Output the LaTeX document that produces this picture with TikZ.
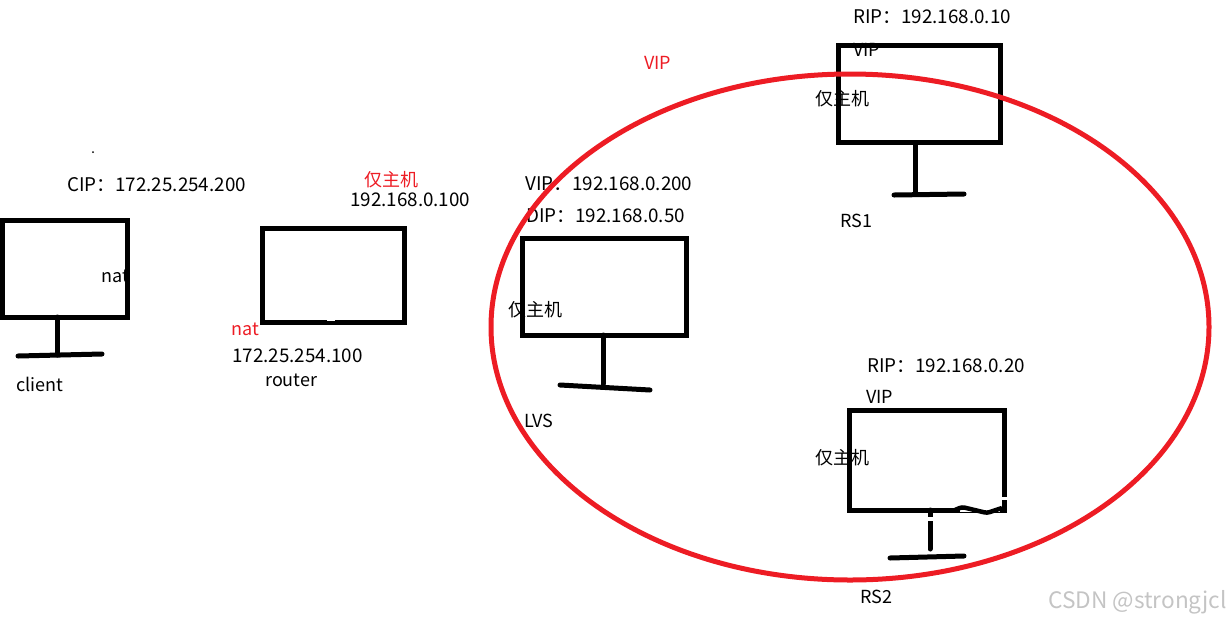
\documentclass[tikz,border=0pt]{standalone}
\usepackage{fontspec}
\usetikzlibrary{shapes.geometric}
\setmainfont{Noto Sans CJK SC}
\definecolor{vipred}{HTML}{ED1C24}
\definecolor{markgray}{HTML}{C4C4C4}
\def\px{0.75pt}
\tikzset{
  lbl/.style={anchor=base west,inner sep=0pt,font=\fontsize{13.5pt}{15pt}\selectfont},
  iplbl/.style={lbl,font=\fontsize{14.1pt}{15pt}\selectfont},
  redlbl/.style={lbl,text=vipred},
  monitor/.style={draw,line width=5*\px,inner sep=0pt,outer sep=0pt},
  stand/.style={line width=5*\px,line cap=round},
}

\begin{document}
\begin{tikzpicture}[x=\px,y=-\px]
  \useasboundingbox (0,0) rectangle (1228,619);
  % texts go first, the boxes and the ring cut through them
  \node[iplbl] (ciptext) at (67,191) {CIP：172.25.254.200};
  \node[lbl] (clientnat) at (101,282) {nat};
  \node[lbl] (clientname) at (16,391) {client};
  \node[redlbl] (routerhost) at (364,186) {仅主机};
  \node[iplbl] (routerip) at (350,206) {192.168.0.100};
  \node[redlbl] (routernat) at (231,335) {nat};
  \node[iplbl] (routerout) at (232,362) {172.25.254.100};
  \node[lbl] (routername) at (265,386) {router};
  \node[redlbl] (viptext) at (644,69) {VIP};
  \node[iplbl] (lvsvip) at (525,190) {VIP：192.168.0.200};
  \node[iplbl] (lvsdip) at (526,222) {DIP：192.168.0.50};
  \node[lbl] (lvshost) at (508,316) {仅主机};
  \node[lbl] (lvsname) at (524,427) {LVS};
  \node[iplbl] (rsoneip) at (853,23) {RIP：192.168.0.10};
  \node[lbl] (rsonevip) at (853,56) {VIP};
  \node[lbl] (rsonehost) at (815,105) {仅主机};
  \node[lbl] (rsonename) at (840,227) {RS1};
  \node[iplbl] (rstwoip) at (867,372) {RIP：192.168.0.20};
  \node[lbl] (rstwovip) at (866,403) {VIP};
  \node[lbl] (rstwohost) at (815,464) {仅主机};
  \node[lbl] (rstwoname) at (860,603) {RS2};
  \node[lbl,text=markgray,font=\fontsize{17pt}{19pt}\selectfont] (mark) at (1048,608) {CSDN @strongjcl};

  % monitors
  \node[monitor,minimum width=125*\px,minimum height=97*\px] (client) at (64.5,268.5) {};
  \node[monitor,minimum width=142*\px,minimum height=94*\px] (router) at (333,275) {};
  \node[monitor,minimum width=164*\px,minimum height=97*\px] (lvs) at (604.5,286.5) {};
  \node[monitor,minimum width=162*\px,minimum height=97*\px] (rsone) at (919,94) {};
  \node[monitor,minimum width=155*\px,minimum height=100*\px] (rstwo) at (927,460) {};

  % feet
  \coordinate (clientleft) at (18,356);
  \coordinate (clientright) at (102,354);
  \coordinate (clientfoot) at (57,355);
  \coordinate (lvsleft) at (560,385);
  \coordinate (lvsright) at (650,390);
  \coordinate (lvsfoot) at (603,384);
  \coordinate (rsoneleft) at (894,195);
  \coordinate (rsoneright) at (964,194);
  \coordinate (rsonefoot) at (915,194);
  \coordinate (rstwoleft) at (890,558);
  \coordinate (rstworight) at (964,556);
  \coordinate (rstwofoot) at (930,549);
  \draw[stand] (client.south -| clientfoot) -- (clientfoot);
  \draw[stand] (clientleft) -- (clientright);
  \draw[stand] (lvs.south -| lvsfoot) -- (lvsfoot);
  \draw[stand] (lvsleft) -- (lvsright);
  \draw[stand] (rsone.south -| rsonefoot) -- (rsonefoot);
  \draw[stand] (rsoneleft) -- (rsoneright);
  \draw[stand] (rstwo.south -| rstwofoot) -- (rstwofoot);
  \draw[stand] (rstwoleft) -- (rstworight);

  % rubbed out bits of the sketch
  \draw[white,line width=4*\px] (924,518.5) -- (936,518.5);
  \draw[white,line width=6*\px] (960,509) -- (1000,509);
  \draw[white,line width=3*\px] (1000,498) -- (1009,498);
  \draw[line width=4.5*\px,rounded corners=2pt]
    (955,510) -- (962,507) -- (987,513) -- (1002,508);
  \draw[white,line width=1.5*\px] (327,320) -- (335,320);

  % the ring
  \node[draw=vipred,ellipse,line width=5*\px,inner sep=0pt,outer sep=0pt,
    minimum width=718*\px,minimum height=506*\px] (ring) at (850,327) {};
  \fill (93,152) circle (1*\px);
\end{tikzpicture}
\end{document}
